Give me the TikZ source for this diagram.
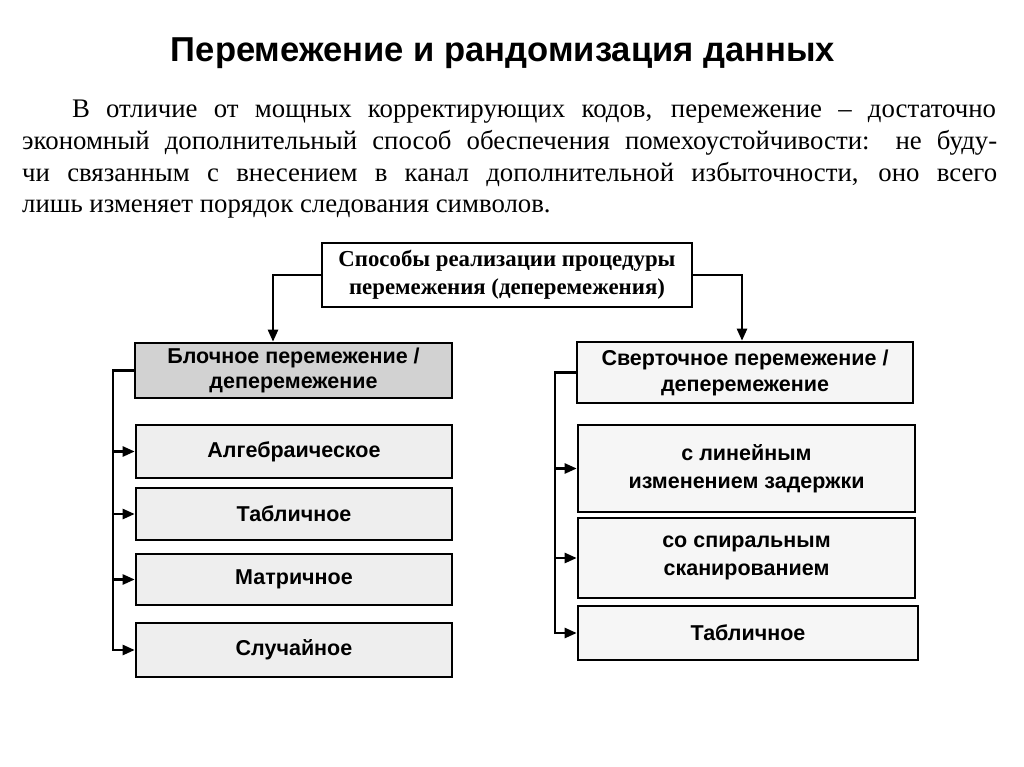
\documentclass[tikz,border=0pt]{standalone}
\usepackage{fontspec}
\setmainfont{Liberation Serif}
\setsansfont{Liberation Sans}
\usetikzlibrary{arrows.meta}
\begin{document}
\begin{tikzpicture}[x=1pt,y=-1pt,
  box/.style={draw=black,line width=2.6pt,rectangle,inner sep=0pt,align=center,
    font=\sffamily\bfseries\fontsize{21.5}{27}\selectfont},
  sub/.style={box,fill=gray!13},
  arr/.style={line width=2.4pt,-{Triangle[length=12pt,width=10pt]}},
  ptext/.style={anchor=base west,inner sep=0pt,font=\fontsize{26.8}{31}\selectfont}]
\useasboundingbox[fill=white] (0,0) rectangle (1024,767);
% title
\node[anchor=base,inner sep=0pt] (title) at (503,62)
  {\resizebox{664pt}{!}{\sffamily\bfseries\fontsize{32}{38}\selectfont Перемежение и рандомизация данных}};
% paragraph
\node[ptext] (p1) at (72,118) {В\kern 16pt\makebox[890pt][s]{отличие от мощных корректирующих кодов, перемежение – достаточно}};
\node[ptext] (p2) at (22,150) {\makebox[975pt][s]{экономный дополнительный способ обеспечения помехоустойчивости: не буду-}};
\node[ptext] (p3) at (22,182) {\makebox[975pt][s]{чи связанным с внесением в канал дополнительной избыточности, оно всего}};
\node[ptext] (p4) at (22,213) {лишь изменяет порядок следования символов.};
% boxes
\node[box,fill=white,minimum width=370pt,minimum height=64pt,
  font=\bfseries\fontsize{22.8}{28}\selectfont] (top) at (507,275)
  {Способы реализации процедуры\\перемежения (деперемежения)};
\node[box,fill=gray!35,minimum width=317pt,minimum height=55pt,
  font=\sffamily\bfseries\fontsize{21.5}{24.5}\selectfont] (blk) at (293.5,370.5)
  {Блочное перемежение /\\деперемежение};
\node[sub,minimum width=316pt,minimum height=53pt] (alg) at (294,451.5) {Алгебраическое};
\node[sub,minimum width=316pt,minimum height=52pt] (tb1) at (294,514) {Табличное};
\node[sub,minimum width=316pt,minimum height=51pt] (mat) at (294,579.5) {Матричное};
\node[sub,minimum width=316pt,minimum height=54pt] (slc) at (294,650) {Случайное};
\node[box,fill=gray!8,minimum width=336pt,minimum height=61pt,
  font=\sffamily\bfseries\fontsize{21.5}{26}\selectfont] (svr) at (745,372.5)
  {Сверточное перемежение /\\деперемежение};
\node[sub,fill=gray!7,minimum width=337pt,minimum height=87pt,
  font=\sffamily\bfseries\fontsize{21.5}{28}\selectfont] (lin) at (746.5,468.5)
  {с линейным\\изменением задержки};
\node[sub,fill=gray!7,minimum width=337pt,minimum height=80pt,
  font=\sffamily\bfseries\fontsize{21.5}{28}\selectfont] (spi) at (746.5,558)
  {со спиральным\\сканированием};
\node[sub,fill=gray!7,minimum width=340pt,minimum height=54pt] (tb2) at (748,633) {Табличное};
% connectors
\draw[arr] (top.west) -| ([xshift=-20.5pt]blk.north);
\draw[arr] (top.east) -| ([xshift=-3pt]svr.north);
\coordinate (lb) at (113,650);
\draw[arr] (blk.west) -| (lb) -- (slc.west);
\draw[arr] (lb |- alg.west) -- (alg.west);
\draw[arr] (lb |- tb1.west) -- (tb1.west);
\draw[arr] (lb |- mat.west) -- (mat.west);
\coordinate (rb) at (555,633);
\draw[arr] (svr.west) -| (rb) -- (tb2.west);
\draw[arr] (rb |- lin.west) -- (lin.west);
\draw[arr] (rb |- spi.west) -- (spi.west);
\end{tikzpicture}
\end{document}
